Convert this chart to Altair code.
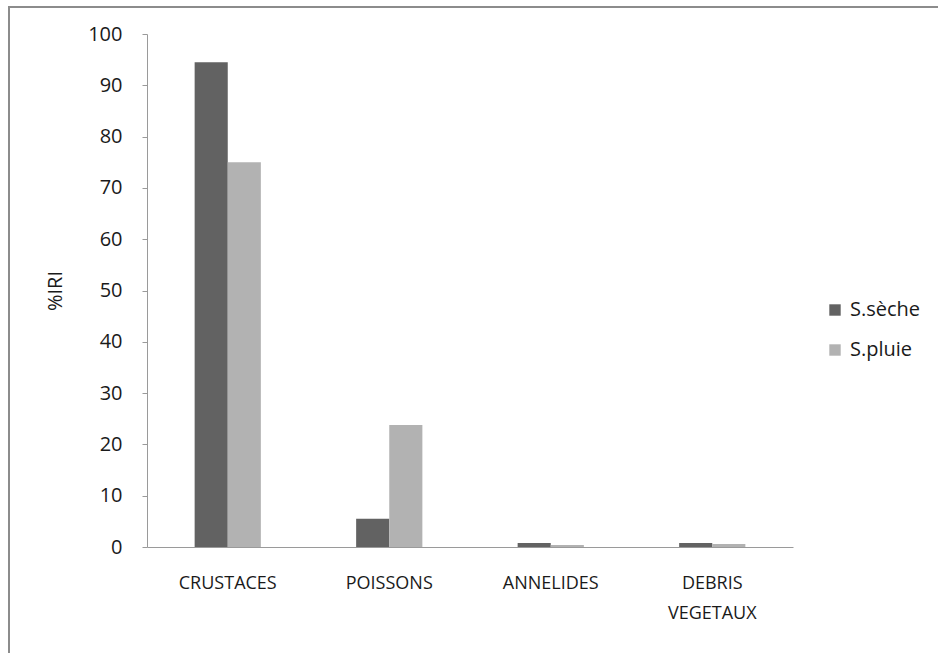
import altair as alt
import pandas as pd

# %IRI per prey group, dry season vs rainy season
categories = ["CRUSTACES", "POISSONS", "ANNELIDES", "DEBRIS VEGETAUX"]
seasons = ["S.sèche", "S.pluie"]
seche = [94.5, 5.5, 0.8, 0.8]
pluie = [75.0, 23.8, 0.4, 0.6]
y_ticks = [0, 10, 20, 30, 40, 50, 60, 70, 80, 90, 100]

rows = []
for cat, a, b in zip(categories, seche, pluie):
    rows.append({"groupe": cat, "saison": seasons[0], "iri": a})
    rows.append({"groupe": cat, "saison": seasons[1], "iri": b})
df = pd.DataFrame(rows)

W, H = 646, 513
LEFT, TOP = 147, 34
FONT = "Open Sans"

bars = alt.Chart(df).mark_bar().encode(
    x=alt.X("groupe:N", sort=categories, title=None,
            scale=alt.Scale(paddingInner=0.59, paddingOuter=0.295),
            axis=alt.Axis(labelAngle=0, ticks=False, domainColor="#9a9a9a",
                          labelFont=FONT, labelFontSize=18, labelColor="#1a1a1a",
                          labelPadding=27, labelLineHeight=30,
                          labelExpr="split(datum.label, ' ')")),
    xOffset=alt.XOffset("saison:N", sort=seasons, scale=alt.Scale(paddingInner=0, paddingOuter=0)),
    y=alt.Y("iri:Q", title="%IRI",
            scale=alt.Scale(domain=[0, 100], nice=False),
            axis=alt.Axis(values=y_ticks, grid=False, domainColor="#9a9a9a",
                          tickColor="#9a9a9a", tickSize=5,
                          labelFont=FONT, labelFontSize=20, labelColor="#1a1a1a",
                          labelPadding=20,
                          titleFont=FONT, titleFontSize=20, titleFontWeight="normal",
                          titleColor="#1a1a1a", titlePadding=22)),
    color=alt.Color("saison:N", sort=seasons,
                    scale=alt.Scale(domain=seasons, range=["#626262", "#b2b2b2"]),
                    legend=alt.Legend(title=None, orient="none", legendX=678, legendY=266,
                                      symbolType="square", symbolSize=130,
                                      symbolStrokeWidth=0,
                                      labelFont=FONT, labelFontSize=20,
                                      labelColor="#1a1a1a", rowPadding=20, labelOffset=5)),
)

# outer frame around the whole chart
frame = alt.Chart(pd.DataFrame({"k": [0]})).mark_rect(
    fill=None, stroke="#8c8c8c", strokeWidth=2
).encode(
    x=alt.value(9 - LEFT), x2=alt.value(950 - LEFT),
    y=alt.value(7 - TOP), y2=alt.value(670 - TOP),
)

chart = alt.layer(frame, bars).properties(
    width=W, height=H,
    background="white",
    autosize=alt.AutoSizeParams(type="none"),
    padding={"left": LEFT, "top": TOP, "right": 938 - LEFT - W, "bottom": 653 - TOP - H},
).configure_view(stroke=None)

chart.save("out.html", embed_options={"renderer": "svg", "actions": False})
